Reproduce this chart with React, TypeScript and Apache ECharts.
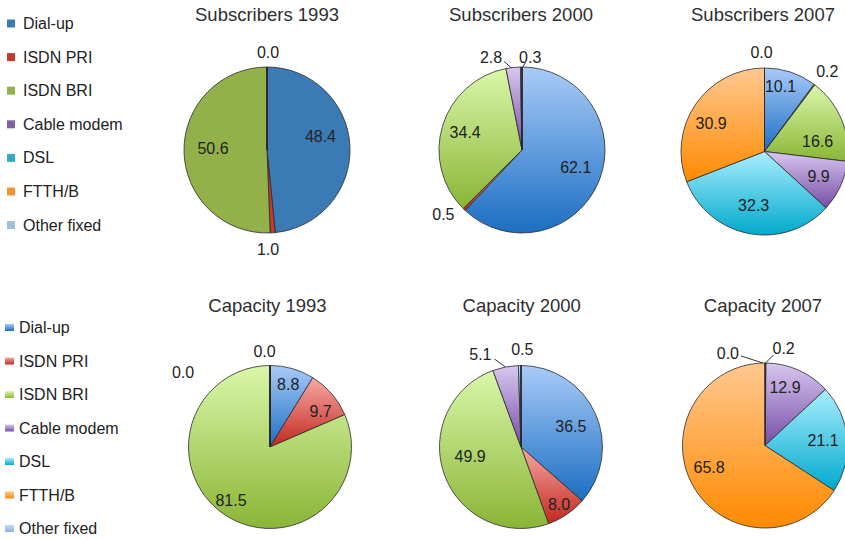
import React, { useEffect, useRef } from 'react';
import * as echarts from 'echarts';

const categories = ['Dial-up', 'ISDN PRI', 'ISDN BRI', 'Cable modem', 'DSL', 'FTTH/B', 'Other fixed'];
const panelTitles = ['Subscribers 1993', 'Subscribers 2000', 'Subscribers 2007', 'Capacity 1993', 'Capacity 2000', 'Capacity 2007'];
const subscribers1993 = [48.4, 1.0, 50.6, 0, 0, 0, 0.0];
const subscribers2000 = [62.1, 0.5, 34.4, 2.8, 0.3, 0, 0];
const subscribers2007 = [10.1, 0.2, 16.6, 9.9, 32.3, 30.9, 0.0];
const capacity1993 = [8.8, 9.7, 81.5, 0.0, 0, 0, 0.0];
const capacity2000 = [36.5, 8.0, 49.9, 5.1, 0.5, 0, 0];
const capacity2007 = [0.0, 0.2, 0, 12.9, 21.1, 65.8, 0];
const shownLabels = [
  [0, 1, 2, 6],
  [0, 1, 2, 3, 4],
  [0, 1, 2, 3, 4, 5, 6],
  [0, 1, 2, 3, 6],
  [0, 1, 2, 3, 4],
  [0, 1, 3, 4, 5],
];

const FONT = "'Liberation Sans', Arial, Helvetica, sans-serif";
const flatColors = ['#3a7bb5', '#c2392d', '#93b14b', '#7e62a1', '#34aac5', '#f29433', '#a3bde0'];
const gradStops = [
  ['#a9cbf8', '#1b6ec2'],
  ['#f7a9a6', '#c2281e'],
  ['#daf7aa', '#8ab536'],
  ['#d8c8f0', '#774ca5'],
  ['#aaeeff', '#00a9cc'],
  ['#ffc890', '#ff8a00'],
  ['#c5d9f5', '#8eaede'],
];
const grad = (i: number) => ({
  type: 'linear', x: 0, y: 0, x2: 0, y2: 1,
  colorStops: [{ offset: 0, color: gradStops[i][0] }, { offset: 1, color: gradStops[i][1] }],
});

// layout (positions/styles)
const panels = [
  { center: [267, 150], r: 83, title: [267, 5], flat: true },
  { center: [522, 150], r: 83, title: [521, 5], flat: false },
  { center: [764.5, 151.5], r: 83.5, title: [763, 5], flat: false },
  { center: [270, 447], r: 81.5, title: [267.5, 296], flat: false },
  { center: [521, 447], r: 81.5, title: [521.7, 296], flat: false },
  { center: [765, 445.5], r: 82.5, title: [763, 296], flat: false },
];

type Tweak = { dx?: number; dy?: number; line?: number[][]; at?: number[]; align?: string };
const tweaks: Record<number, Tweak>[] = [
  { 0: { dx: 9, dy: -11 }, 1: { dx: -2, dy: 55.6 }, 2: { dx: -9.5, dy: -2 }, 6: { dx: 1, dy: -53 } },
  {
    0: { dx: 12.4, dy: 1 }, 1: { dx: -47.6, dy: 32.7 }, 2: { dx: -14.3, dy: -4.4 },
    3: { line: [[0, 2], [-9, -6]], at: [-11, -10], align: 'right' },
    4: { line: [[1, 1], [4, -4]], at: [9, -10], align: 'center' },
  },
  {
    0: { dx: 2, dy: -22.6 }, 1: { dx: 36, dy: -44 }, 2: { dx: 12, dy: 7.4 }, 3: { dx: 13.4, dy: 6.7 },
    4: { dx: -2.6, dy: 10.2 }, 5: { dx: -16.5, dy: -2.8 }, 6: { dx: -3, dy: -54 },
  },
  { 0: { dx: 6.3, dy: -20.6 }, 1: { dx: 17.5, dy: -6.7 }, 2: { dx: -15, dy: 16.7 }, 3: { dx: -5.5, dy: -52 }, 6: { dx: -87, dy: -31 } },
  {
    0: { dx: 10, dy: -2.6 }, 1: { dx: 13.5, dy: 21.6 }, 2: { dx: -9.7, dy: -5.2 },
    3: { line: [[0, 0], [-11, -8]], at: [-14, -12], align: 'right' },
    4: { dx: 2, dy: -53.5 },
  },
  {
    0: { line: [[-2, 0], [-24, -7]], at: [-26, -9.5], align: 'right' },
    1: { line: [[0, 0], [8, -8]], at: [7, -14.5], align: 'left' },
    3: { dx: 2, dy: -18 }, 4: { dx: 14, dy: -1.7 }, 5: { dx: -17, dy: 0.7 },
  },
];

const makeLayout = (tw: Record<number, Tweak>) => (p: any) => {
  const t = tw[p.dataIndex];
  if (!t) return {};
  if (t.line) {
    const pts = p.labelLinePoints;
    if (!pts || !pts.length) return {};
    const x0 = pts[0][0];
    const y0 = pts[0][1];
    return {
      x: x0 + (t.at as number[])[0],
      y: y0 + (t.at as number[])[1],
      align: t.align,
      verticalAlign: 'middle',
      labelLinePoints: t.line.map((q) => [x0 + q[0], y0 + q[1]]),
    };
  }
  return { dx: t.dx, dy: t.dy };
};

export default function App() {
  const ref = useRef<HTMLDivElement>(null);
  useEffect(() => {
    document.body.style.margin = '0';
    if (!ref.current) return;
    const chart = echarts.init(ref.current, undefined, { renderer: 'svg' });
    const datasets = [subscribers1993, subscribers2000, subscribers2007, capacity1993, capacity2000, capacity2007];
    const series = datasets.map((vals, si) => {
      const pn = panels[si];
      const tw = tweaks[si];
      return {
        type: 'pie',
        center: pn.center,
        radius: pn.r,
        startAngle: 90,
        clockwise: true,
        avoidLabelOverlap: false,
        animation: false,
        emphasis: { disabled: true },
        itemStyle: { borderColor: '#2b2b2b', borderWidth: 0.8 },
        label: {
          show: true,
          position: 'inside',
          fontSize: 16,
          fontFamily: FONT,
          color: '#222',
          formatter: (p: any) => Number(p.value).toFixed(1),
        },
        labelLine: { show: false },
        labelLayout: makeLayout(tw),
        data: vals.map((v, i) => {
          const show = shownLabels[si].includes(i);
          const lined = !!(tw[i] && tw[i].line);
          return {
            name: categories[i],
            value: v,
            itemStyle: { color: pn.flat ? flatColors[i] : grad(i) },
            label: { show, position: lined ? 'outside' : 'inside' },
            labelLine: lined
              ? { show: true, length: 4, length2: 2, lineStyle: { color: '#333', width: 1 } }
              : { show: false },
          };
        }),
      };
    });
    const titles = panelTitles.map((t, i) => ({
      text: t,
      left: panels[i].title[0],
      top: panels[i].title[1],
      textAlign: 'center',
      padding: 0,
      textStyle: { fontSize: 18.5, fontWeight: 'normal', fontFamily: FONT, color: '#2e2e2e' },
    }));
    chart.setOption({
      animation: false,
      backgroundColor: '#ffffff',
      title: titles,
      legend: [
        {
          orient: 'vertical',
          left: 7,
          top: 15.5,
          icon: 'rect',
          itemWidth: 8,
          itemHeight: 8,
          itemGap: 17.6,
          selectedMode: false,
          padding: 0,
          itemStyle: { borderWidth: 0 },
          textStyle: { fontSize: 16, fontFamily: FONT, color: '#222', lineHeight: 16, padding: [0, 0, 0, 3] },
          data: categories.map((n, i) => ({ name: n, itemStyle: { color: flatColors[i], borderWidth: 0 } })),
        },
        {
          orient: 'vertical',
          left: 5,
          top: 317.5,
          icon: 'rect',
          itemWidth: 9,
          itemHeight: 7,
          itemGap: 13.5,
          selectedMode: false,
          padding: 0,
          itemStyle: { borderWidth: 0 },
          textStyle: { fontSize: 16, fontFamily: FONT, color: '#222', lineHeight: 16, padding: [4, 0, 0, 0] },
          data: categories.map((n, i) => ({ name: n, itemStyle: { color: grad(i), borderWidth: 0 } })),
        },
      ],
      series,
    });
    return () => chart.dispose();
  }, []);
  return <div ref={ref} style={{ width: 845, height: 539 }} />;
}
